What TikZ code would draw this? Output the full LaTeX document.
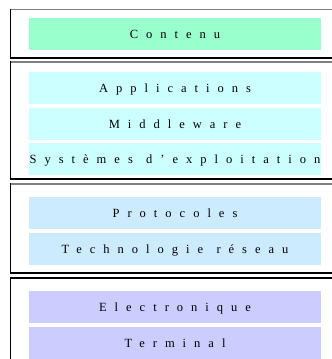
\documentclass[tikz,border=0pt]{standalone}
\usepackage{fontspec}
\setmainfont{Liberation Serif}
\newfontfamily\spacedfont{Liberation Serif}[LetterSpace=64, WordSpace=1.2]

\definecolor{contenucol}{HTML}{99FFCC}
\definecolor{logicielcol}{HTML}{CCFFFF}
\definecolor{reseaucol}{HTML}{CCEBFF}
\definecolor{materielcol}{HTML}{CCCCFF}

\tikzset{
    frame/.style={draw=black, line width=1.1pt},
    frametop/.style={draw=gray, line width=1.1pt},
    layertext/.style={anchor=base, inner sep=0pt, font=\spacedfont\fontsize{12.5}{14}\selectfont}
}

\begin{document}
\begin{tikzpicture}[x=1pt, y=-1pt]
    \useasboundingbox (0,0) rectangle (332,359);

    % outer frames, cut off on the right
    \draw[frame] (340, 9.5) -- (10.5, 9.5) -- (10.5, 58) -- (340, 58);
    \draw[frametop] (10.5, 9.5) -- (340, 9.5);
    \draw[frame] (340, 62) -- (10.5, 62) -- (10.5, 179) -- (340, 179);
    \draw[frametop] (10.5, 62) -- (340, 62);
    \draw[frame] (340, 184) -- (10.5, 184) -- (10.5, 273) -- (340, 273);
    \draw[frametop] (10.5, 184) -- (340, 184);
    \draw[frame] (340, 278) -- (10.5, 278) -- (10.5, 370);

    % contenu
    \fill[contenucol] (29, 18) rectangle (321, 50);
    \node[layertext] (contenu) at (175, 38.5) {Contenu};

    % logiciel
    \fill[logicielcol] (29, 72) rectangle (321, 104);
    \fill[logicielcol] (29, 108) rectangle (321, 139.5);
    \fill[logicielcol] (29, 143) rectangle (321, 175);
    \node[layertext] (applications) at (175, 92.5) {Applications};
    \node[layertext] (middleware) at (175, 128.5) {Middleware};
    \node[layertext] (systemes) at (175, 163.5) {Systèmes d’exploitation};

    % reseau
    \fill[reseaucol] (29, 197) rectangle (321, 229);
    \fill[reseaucol] (29, 233) rectangle (321, 265);
    \node[layertext] (protocoles) at (175, 217.5) {Protocoles};
    \node[layertext] (technologie) at (175, 253.5) {Technologie réseau};

    % materiel
    \fill[materielcol] (29, 291) rectangle (321, 323);
    \fill[materielcol] (29, 327) rectangle (321, 359);
    \node[layertext] (electronique) at (175, 311.5) {Electronique};
    \node[layertext] (terminal) at (175, 347.5) {Terminal};
\end{tikzpicture}
\end{document}
